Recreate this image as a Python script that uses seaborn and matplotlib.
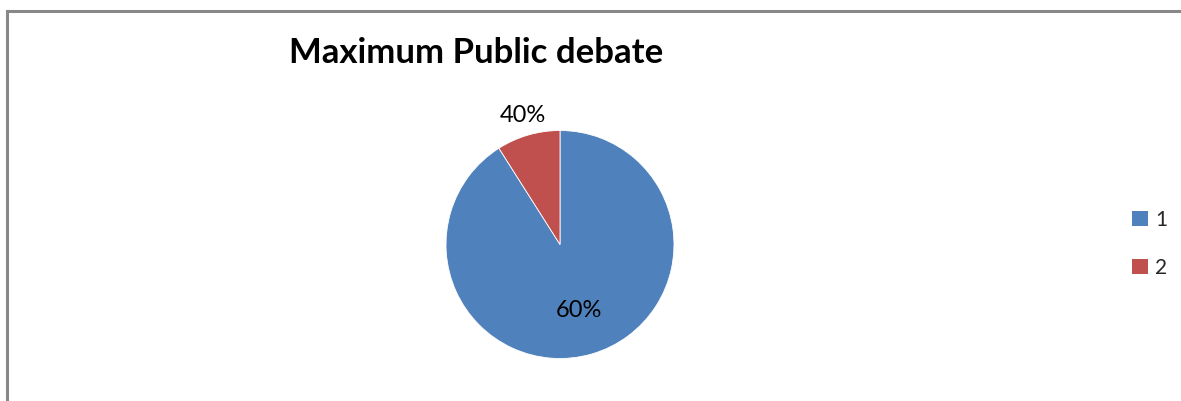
import numpy as np
import matplotlib
matplotlib.use("Agg")
import matplotlib.pyplot as plt
import seaborn as sns
from matplotlib.patches import Rectangle
from matplotlib.lines import Line2D

# data
categories = ["1", "2"]
slice_values = [91, 9]           # visual share of each slice
label_texts = ["60%", "40%"]     # data labels as printed on the chart
title = "Maximum Public debate"

sns.set_theme(style="white")
plt.rcParams['font.family'] = ['Lato', 'DejaVu Sans']
colors = ["#4F81BD", "#C0504D"]

W, H = 1181, 401
fig = plt.figure(figsize=(W / 100, H / 100), dpi=100)
fig.patch.set_facecolor("white")

# outer border (chart area frame: top and left edges visible)
bx, by = 7 / W, 1 - 11 / H
fig.lines.append(Line2D([bx, 1.02], [by, by], transform=fig.transFigure,
                        color="#888888", linewidth=2.2, solid_capstyle="projecting"))
fig.lines.append(Line2D([bx, bx], [-0.02, by], transform=fig.transFigure,
                        color="#888888", linewidth=2.2, solid_capstyle="projecting"))

cx, cy, r = 560, 401 - 244.5, 114
ax = fig.add_axes([(cx - r) / W, (cy - r) / H, 2 * r / W, 2 * r / H])
wedges, _ = ax.pie(slice_values, colors=colors, startangle=90, counterclock=False,
                   radius=1, wedgeprops=dict(linewidth=0.6, edgecolor="white"))
ax.set_xlim(-1, 1)
ax.set_ylim(-1, 1)
ax.set_aspect("equal")
ax.axis("off")

dists = [0.6, 1.18]
for w, txt, d in zip(wedges, label_texts, dists):
    ang = np.deg2rad((w.theta1 + w.theta2) / 2)
    ax.text(d * np.cos(ang), d * np.sin(ang), txt, ha="center", va="center",
            fontsize=17, color="black", clip_on=False)

fig.text(476 / W, 1 - 53 / H, title, ha="center", va="center",
         fontsize=25, fontweight="bold", color="black")

handles = [Rectangle((0, 0), 1, 1, facecolor=c, edgecolor="none") for c in colors]
leg = fig.legend(handles, categories, loc="center left", bbox_to_anchor=(1124 / W, 1 - 244 / H),
                 frameon=False, fontsize=15, handlelength=0.75, handleheight=0.75,
                 handletextpad=0.35, labelspacing=1.35, borderaxespad=0)

fig.savefig("out.png", dpi=100, facecolor="white")
